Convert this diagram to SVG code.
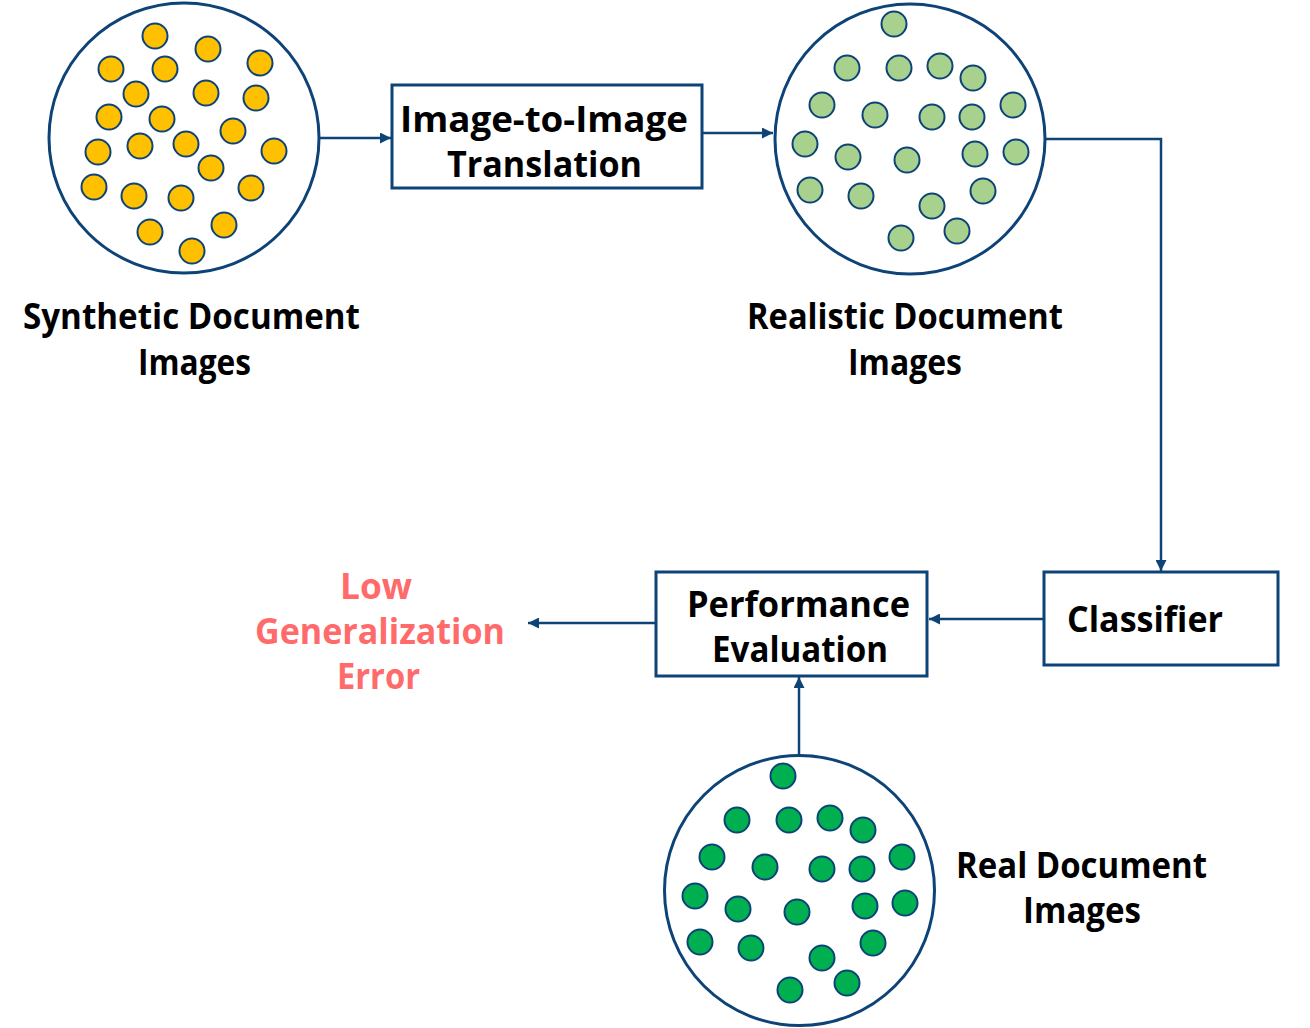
<svg xmlns="http://www.w3.org/2000/svg" width="1310" height="1028" viewBox="0 0 1310 1028">
<defs>
<marker id="arr" viewBox="0 0 10 10" refX="10" refY="5" markerWidth="11" markerHeight="11" markerUnits="userSpaceOnUse" orient="auto">
<path d="M0,0 L10,5 L0,10 z" fill="#0D4377"/>
</marker>
</defs>
<style>
.big{fill:#fff;stroke:#0D4377;stroke-width:3}
.box{fill:#fff;stroke:#0D4377;stroke-width:3}
.y circle{fill:#FFC000;stroke:#0D4377;stroke-width:2}
.lg circle{fill:#A9D18E;stroke:#0D4377;stroke-width:2}
.dg circle{fill:#00B050;stroke:#0D4377;stroke-width:2}
.t{font-family:"Open Sans","Noto Sans","DejaVu Sans",sans-serif;font-weight:bold;font-size:36px;fill:#000;text-anchor:middle}
.r{fill:#FF6B6B}
.c{fill:none;stroke:#0D4377;stroke-width:2.5;marker-end:url(#arr)}
</style>
<rect width="1310" height="1028" fill="#fff"/>

<g id="connectors">
<path class="c" d="M319,138 H391"/>
<path class="c" d="M702,133 H773"/>
<path class="c" d="M1045,139 H1161 V571"/>
<path class="c" d="M1044,619 H929"/>
<path class="c" d="M656,623 H528"/>
<path class="c" d="M799,755 V677"/>
</g>

<g id="synthetic">
<circle class="big" cx="184" cy="138" r="135"/>
<g class="y">
<circle cx="155" cy="36" r="12.5"/><circle cx="208" cy="49" r="12.5"/><circle cx="260" cy="63" r="12.5"/>
<circle cx="111" cy="69" r="12.5"/><circle cx="165" cy="69" r="12.5"/><circle cx="136" cy="94" r="12.5"/>
<circle cx="206" cy="93" r="12.5"/><circle cx="256" cy="98" r="12.5"/><circle cx="109" cy="117" r="12.5"/>
<circle cx="162" cy="119" r="12.5"/><circle cx="233" cy="131" r="12.5"/><circle cx="98" cy="152" r="12.5"/>
<circle cx="140" cy="146" r="12.5"/><circle cx="186" cy="144" r="12.5"/><circle cx="274" cy="151" r="12.5"/>
<circle cx="211" cy="168" r="12.5"/><circle cx="94" cy="187" r="12.5"/><circle cx="134" cy="196" r="12.5"/>
<circle cx="181" cy="198" r="12.5"/><circle cx="251" cy="188" r="12.5"/><circle cx="150" cy="232" r="12.5"/>
<circle cx="224" cy="225" r="12.5"/><circle cx="192" cy="251" r="12.5"/>
</g>
<text class="t" x="191.5" y="329" textLength="337" lengthAdjust="spacingAndGlyphs">Synthetic Document</text>
<text class="t" x="194.5" y="375" textLength="113" lengthAdjust="spacingAndGlyphs">Images</text>
</g>

<g id="translation">
<rect class="box" x="392" y="85" width="310" height="103"/>
<text class="t" x="544" y="131.5" textLength="288" lengthAdjust="spacingAndGlyphs">Image-to-Image</text>
<text class="t" x="544.5" y="176.5" textLength="195" lengthAdjust="spacingAndGlyphs">Translation</text>
</g>

<g id="realistic">
<circle class="big" cx="910" cy="139" r="135"/>
<g class="lg">
<circle cx="894" cy="24" r="12.5"/><circle cx="847" cy="68" r="12.5"/><circle cx="899" cy="68" r="12.5"/>
<circle cx="940" cy="66" r="12.5"/><circle cx="973" cy="78" r="12.5"/><circle cx="822" cy="105" r="12.5"/>
<circle cx="875" cy="115" r="12.5"/><circle cx="932" cy="117" r="12.5"/><circle cx="972" cy="117" r="12.5"/>
<circle cx="1013" cy="105" r="12.5"/><circle cx="805" cy="144" r="12.5"/><circle cx="848" cy="157" r="12.5"/>
<circle cx="907" cy="160" r="12.5"/><circle cx="975" cy="154" r="12.5"/><circle cx="1016" cy="152" r="12.5"/>
<circle cx="810" cy="190" r="12.5"/><circle cx="861" cy="196" r="12.5"/><circle cx="932" cy="206" r="12.5"/>
<circle cx="983" cy="191" r="12.5"/><circle cx="901" cy="238" r="12.5"/><circle cx="957" cy="231" r="12.5"/>
</g>
<text class="t" x="905" y="329" textLength="316" lengthAdjust="spacingAndGlyphs">Realistic Document</text>
<text class="t" x="905" y="375" textLength="114" lengthAdjust="spacingAndGlyphs">Images</text>
</g>

<g id="classifier">
<rect class="box" x="1044" y="572" width="234" height="93"/>
<text class="t" x="1145" y="632" textLength="156" lengthAdjust="spacingAndGlyphs">Classifier</text>
</g>

<g id="evaluation">
<rect class="box" x="656" y="572" width="271" height="104"/>
<text class="t" x="798.5" y="617" textLength="223" lengthAdjust="spacingAndGlyphs">Performance</text>
<text class="t" x="800" y="662" textLength="176" lengthAdjust="spacingAndGlyphs">Evaluation</text>
</g>

<g id="error">
<text class="t r" x="376" y="599" textLength="72" lengthAdjust="spacingAndGlyphs">Low</text>
<text class="t r" x="380" y="644" textLength="250" lengthAdjust="spacingAndGlyphs">Generalization</text>
<text class="t r" x="378.5" y="689" textLength="83" lengthAdjust="spacingAndGlyphs">Error</text>
</g>

<g id="real">
<circle class="big" cx="799.5" cy="890.5" r="135"/>
<g class="dg">
<circle cx="783" cy="776" r="12.5"/><circle cx="737" cy="820" r="12.5"/><circle cx="789" cy="820" r="12.5"/>
<circle cx="830" cy="818" r="12.5"/><circle cx="863" cy="830" r="12.5"/><circle cx="712" cy="857" r="12.5"/>
<circle cx="765" cy="867" r="12.5"/><circle cx="822" cy="869" r="12.5"/><circle cx="862" cy="869" r="12.5"/>
<circle cx="902" cy="857" r="12.5"/><circle cx="695" cy="896" r="12.5"/><circle cx="738" cy="909" r="12.5"/>
<circle cx="797" cy="912" r="12.5"/><circle cx="865" cy="906" r="12.5"/><circle cx="905" cy="903" r="12.5"/>
<circle cx="700" cy="942" r="12.5"/><circle cx="751" cy="948" r="12.5"/><circle cx="822" cy="958" r="12.5"/>
<circle cx="873" cy="943" r="12.5"/><circle cx="790" cy="990" r="12.5"/><circle cx="847" cy="983" r="12.5"/>
</g>
<text class="t" x="1081.5" y="878" textLength="251" lengthAdjust="spacingAndGlyphs">Real Document</text>
<text class="t" x="1082" y="923" textLength="118" lengthAdjust="spacingAndGlyphs">Images</text>
</g>
</svg>
